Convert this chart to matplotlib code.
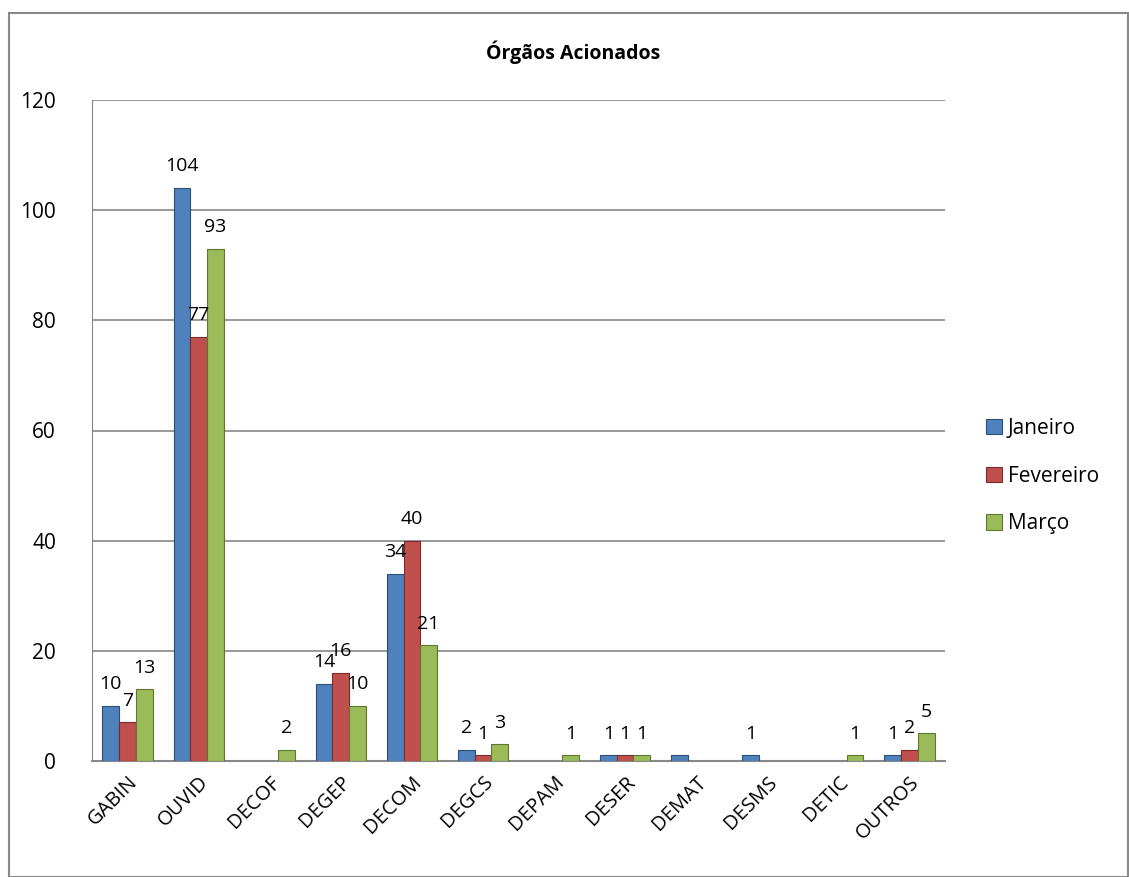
import numpy as np
import matplotlib
matplotlib.use('Agg')
import matplotlib.pyplot as plt
from matplotlib.patches import Rectangle

# Data (None = no bar)
categories = ['GABIN', 'OUVID', 'DECOF', 'DEGEP', 'DECOM', 'DEGCS',
              'DEPAM', 'DESER', 'DEMAT', 'DESMS', 'DETIC', 'OUTROS']
janeiro = [10, 104, None, 14, 34, 2, None, 1, 1, 1, None, 1]
fevereiro = [7, 77, None, 16, 40, 1, None, 1, None, None, None, 2]
marco = [13, 93, 2, 10, 21, 3, 1, 1, None, None, 1, 5]
series_names = ['Janeiro', 'Fevereiro', 'Março']
# the DEMAT/Janeiro bar has no label in the original
hidden_labels = [('DEMAT', 'Janeiro')]

plt.rcParams['font.family'] = ['Open Sans', 'DejaVu Sans']

colors = ['#4F81BD', '#C0504D', '#9BBB59']
edges = ['#2C4D75', '#772C2A', '#5F7530']

fig = plt.figure(figsize=(11.29, 8.77), dpi=100)
fig.patches.append(Rectangle((9/1129, 0), 1 - 9/1129 - 0.0005, 1 - 13/877,
                             transform=fig.transFigure, fill=False,
                             edgecolor='#888888', lw=1.5))
ax = fig.add_axes([92/1129, 1 - 761/877, (945-92)/1129, (761-100)/877])

x = np.arange(len(categories))
w = 0.235
for i, (vals, name) in enumerate(zip([janeiro, fevereiro, marco], series_names)):
    v = np.array([np.nan if a is None else a for a in vals], dtype=float)
    pos = x + (i - 1) * w
    ax.bar(pos, v, width=w, color=colors[i], edgecolor=edges[i], lw=0.8,
           label=name, zorder=3)
    for p, val, cat in zip(pos, v, categories):
        if np.isnan(val) or (cat, name) in hidden_labels:
            continue
        ax.text(p, val + 2.3, '%d' % val, ha='center', va='bottom',
                fontsize=14, zorder=4)

ax.set_xlim(-0.5, len(categories) - 0.5)
ax.set_ylim(0, 120)
ax.set_yticks(np.arange(0, 121, 20))
ax.tick_params(axis='y', labelsize=15, length=0, pad=26)
ax.set_xticks(x)
ax.set_xticklabels(categories, rotation=45, ha='right', rotation_mode='anchor',
                   fontsize=14.5)
ax.tick_params(axis='x', length=0, pad=8)
ax.grid(axis='y', color='#888888', lw=1.2, zorder=0)
for s in ['top', 'right']:
    ax.spines[s].set_visible(False)
ax.spines['left'].set_color('#888888')
ax.spines['bottom'].set_color('#888888')
ax.spines['bottom'].set_linewidth(1.5)

fig.text(573/1129, 1 - 52/877, 'Órgãos Acionados', ha='center', va='center',
         fontsize=14, fontweight='bold')

ax.legend(loc='center left', bbox_to_anchor=(1.026, 0.431), frameon=False,
          fontsize=15, handlelength=0.75, handleheight=0.75, handletextpad=0.3,
          labelspacing=1.28)

fig.savefig('out.png', dpi=100)
